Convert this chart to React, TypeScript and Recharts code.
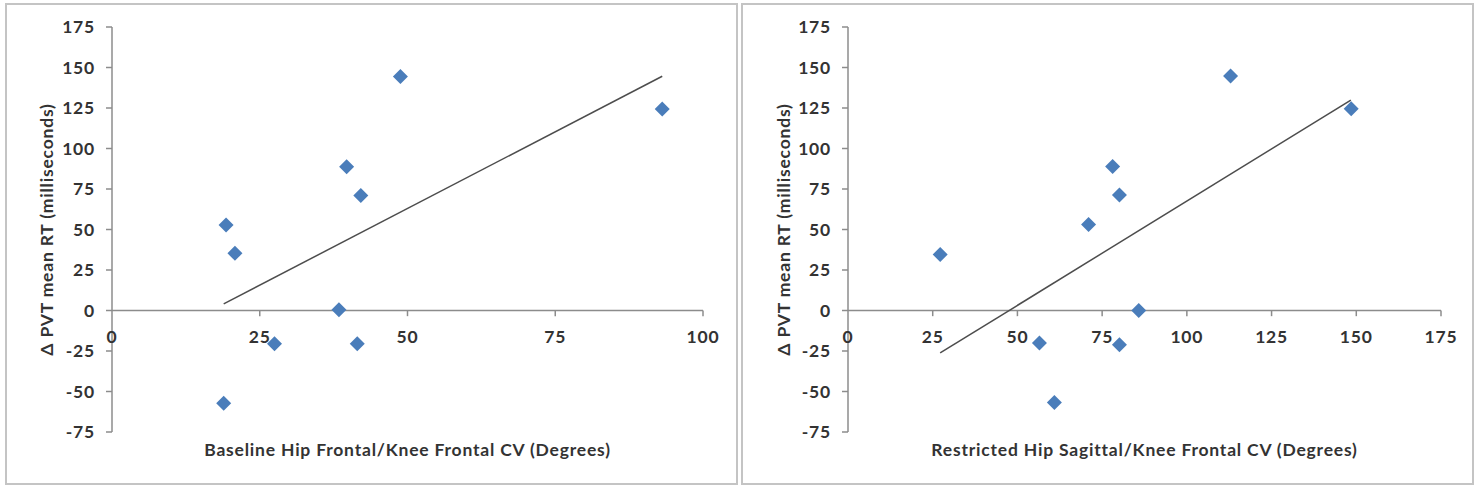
import React from 'react';
import { ScatterChart, Scatter, XAxis, YAxis, ReferenceLine, ReferenceDot, Label } from 'recharts';

const yTicks = [-75, -50, -25, 0, 25, 50, 75, 100, 125, 150, 175];

const leftXTicks = [0, 25, 50, 75, 100];
const leftX = [19.3, 20.8, 18.9, 27.5, 38.4, 39.7, 42.1, 41.5, 48.8, 93.1];
const leftY = [52.8, 35.3, -57.3, -20.5, 0.4, 88.7, 71, -20.5, 144.4, 124.4];
const leftTrendX = [18.9, 93.1];
const leftTrendY = [4.1, 144.6];

const rightXTicks = [0, 25, 50, 75, 100, 125, 150, 175];
const rightX = [27.2, 56.5, 60.9, 71.0, 78.1, 80.1, 80.1, 85.8, 112.9, 148.5];
const rightY = [34.6, -20.1, -56.8, 53.1, 88.9, 71.3, -21.1, 0, 144.7, 124.6];
const rightTrendX = [27.2, 148.4];
const rightTrendY = [-26.2, 129.9];

const yTitle = 'Δ PVT mean RT (milliseconds)';
const leftXTitle = 'Baseline Hip Frontal/Knee Frontal CV (Degrees)';
const rightXTitle = 'Restricted Hip Sagittal/Knee Frontal CV (Degrees)';

const FONT = 'Lato, "Open Sans", sans-serif';
const FS = 17.5;
const LS = 0.8;
const TEXT = '#333333';
const AXIS = '#8c8c8c';
const MARK = '#4a7dba';

const Diamond = (props: any) => {
  const { cx, cy } = props;
  if (cx == null || cy == null) return <g />;
  const h = 7.5;
  return (
    <polygon
      points={`${cx},${cy - h} ${cx + h},${cy} ${cx},${cy + h} ${cx - h},${cy}`}
      fill={MARK}
    />
  );
};

type PanelProps = {
  width: number;
  yAxisWidth: number;
  rightMargin: number;
  yLabelX: number;
  xMax: number;
  xTicks: number[];
  xs: number[];
  ys: number[];
  trendX: number[];
  trendY: number[];
  xTitle: string;
};

function Panel(p: PanelProps) {
  const data = p.xs.map((x, i) => ({ x, y: p.ys[i] }));
  const tickStyle = { fill: TEXT, fontSize: FS, fontWeight: 700, fontFamily: FONT, letterSpacing: LS };
  return (
    <ScatterChart
      width={p.width}
      height={493}
      margin={{ top: 27, right: p.rightMargin, bottom: 0, left: 0 }}
    >
      <XAxis
        type="number"
        dataKey="x"
        domain={[0, p.xMax]}
        ticks={p.xTicks}
        allowDataOverflow
        height={61}
        axisLine={false}
        tickLine={false}
        tick={false}
      >
        <Label
          value={p.xTitle}
          position="insideTop"
          offset={12}
          fill={TEXT}
          fontSize={FS}
          fontWeight={700}
          fontFamily={FONT}
          letterSpacing={LS}
        />
      </XAxis>
      <YAxis
        type="number"
        dataKey="y"
        domain={[-75, 175]}
        ticks={yTicks}
        interval={0}
        width={p.yAxisWidth}
        axisLine={{ stroke: AXIS, strokeWidth: 1.5 }}
        tickLine={{ stroke: AXIS, strokeWidth: 1.5 }}
        tickSize={6}
        tickMargin={11}
        tick={tickStyle}
      >
        <Label
          content={(lp: any) => {
            const vb = lp.viewBox || { x: 0, y: 27, width: 0, height: 405 };
            const cx = vb.x + p.yLabelX;
            const cy = vb.y + vb.height / 2;
            return (
              <text
                transform={`translate(${cx}, ${cy}) rotate(-90)`}
                textAnchor="middle"
                dominantBaseline="central"
                fill={TEXT}
                fontSize={FS}
                fontWeight={700}
                fontFamily={FONT}
                letterSpacing={LS}
              >
                {yTitle}
              </text>
            );
          }}
        />
      </YAxis>
      <ReferenceLine y={0} stroke={AXIS} strokeWidth={1.5} />
      {p.xTicks.filter((t) => t !== 0).map((t) => (
        <ReferenceLine
          key={'tm' + t}
          segment={[{ x: t, y: 0 }, { x: t, y: -3.5 }]}
          stroke={AXIS}
          strokeWidth={1.5}
        />
      ))}
      {p.xTicks.map((t) => (
        <ReferenceDot
          key={'tl' + t}
          x={t}
          y={0}
          r={0}
          fill="none"
          stroke="none"
          label={{
            value: String(t),
            position: 'bottom',
            offset: 20,
            fill: TEXT,
            fontSize: FS,
            fontWeight: 700,
            fontFamily: FONT,
            letterSpacing: LS,
          }}
        />
      ))}
      <ReferenceLine
        segment={[
          { x: p.trendX[0], y: p.trendY[0] },
          { x: p.trendX[1], y: p.trendY[1] },
        ]}
        stroke="#4d4d4d"
        strokeWidth={1.5}
      />
      <Scatter data={data} shape={Diamond} isAnimationActive={false} />
    </ScatterChart>
  );
}

export default function App() {
  const box = {
    position: 'absolute' as const,
    boxSizing: 'border-box' as const,
    border: '2px solid #c4c4c4',
    top: 3,
    height: 482,
  };
  return (
    <div style={{ position: 'absolute', left: 0, top: 0, width: 1479, height: 493, background: '#fff', overflow: 'hidden' }}>
      <div style={{ ...box, left: 5, width: 733 }} />
      <div style={{ ...box, left: 741, width: 733 }} />
      <div style={{ position: 'absolute', left: 0, top: 0 }}>
        <Panel
          width={740}
          yAxisWidth={112}
          rightMargin={37}
          yLabelX={46}
          xMax={100}
          xTicks={leftXTicks}
          xs={leftX}
          ys={leftY}
          trendX={leftTrendX}
          trendY={leftTrendY}
          xTitle={leftXTitle}
        />
      </div>
      <div style={{ position: 'absolute', left: 740, top: 0 }}>
        <Panel
          width={739}
          yAxisWidth={108}
          rightMargin={38}
          yLabelX={43}
          xMax={175}
          xTicks={rightXTicks}
          xs={rightX}
          ys={rightY}
          trendX={rightTrendX}
          trendY={rightTrendY}
          xTitle={rightXTitle}
        />
      </div>
    </div>
  );
}
